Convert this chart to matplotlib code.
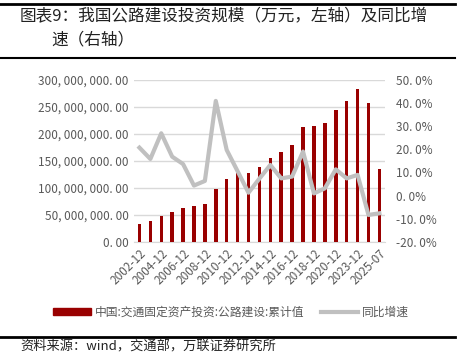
import matplotlib
matplotlib.use("Agg")
import matplotlib.pyplot as plt
from matplotlib.lines import Line2D
from matplotlib.patches import Patch
import numpy as np

plt.rcParams["font.family"] = ["Noto Sans CJK SC", "DejaVu Sans"]

# --- Données ---
periods = ["2002-12", "2003-12", "2004-12", "2005-12", "2006-12", "2007-12",
           "2008-12", "2009-12", "2010-12", "2011-12", "2012-12", "2013-12",
           "2014-12", "2015-12", "2016-12", "2017-12", "2018-12", "2019-12",
           "2020-12", "2021-12", "2023-12", "2024-12", "2025-07"]
invest = [32.8e6, 38.4e6, 48.3e6, 55.7e6, 63.1e6, 66.2e6, 69.9e6, 97.8e6,
          116.3e6, 126.9e6, 128.1e6, 138.0e6, 155.3e6, 165.8e6, 178.8e6,
          212.3e6, 214.1e6, 219.7e6, 243.8e6, 260.5e6, 282.8e6, 258.0e6, 134.3e6]
yoy = [20.7, 15.8, 26.9, 16.8, 13.6, 4.3, 6.3, 40.9, 19.7, 10.5, 1.2, 7.3,
       13.2, 7.4, 8.2, 19.0, 0.9, 3.1, 11.3, 7.4, 8.9, -8.4, -7.7]
left_ticks = [0, 50e6, 100e6, 150e6, 200e6, 250e6, 300e6]
left_labels = ["0. 00", "50, 000, 000. 00", "100, 000, 000. 00", "150, 000, 000. 00",
               "200, 000, 000. 00", "250, 000, 000. 00", "300, 000, 000. 00"]
right_ticks = [-20, -10, 0, 10, 20, 30, 40, 50]
right_labels = ["-20. 0%", "-10. 0%", "0. 0%", "10. 0%", "20. 0%", "30. 0%", "40. 0%", "50. 0%"]

bar_color = "#990000"
line_color = "#C0C0C0"
txt_color = "#595959"

fig = plt.figure(figsize=(4.62, 3.55), dpi=100)
ax = fig.add_axes([0.290, 0.319, 0.543, 0.456])
x = np.arange(len(periods))

ax.bar(x, invest, width=0.32, color=bar_color, zorder=3)
ax.set_ylim(0, 300e6)
ax.set_xlim(-0.5, len(periods) - 0.5)
ax.set_yticks(left_ticks)
ax.set_yticklabels(left_labels, fontsize=8.5, color=txt_color)
ax.grid(axis="y", color="#D9D9D9", linewidth=1, zorder=0)
ax.set_xticks(x[::2])
ax.set_xticklabels(periods[::2], rotation=45, ha="right", rotation_mode="anchor",
                   fontsize=8.5, color=txt_color)
ax.tick_params(length=0, pad=4)
for s in ["top", "right", "left"]:
    ax.spines[s].set_visible(False)
ax.spines["bottom"].set_color("#D9D9D9")

ax2 = ax.twinx()
ax2.plot(x, yoy, color=line_color, linewidth=3, zorder=4)
ax2.set_ylim(-20, 50)
ax2.set_yticks(right_ticks)
ax2.set_yticklabels(right_labels, fontsize=8.5, color=txt_color)
ax2.tick_params(length=0, pad=8)
for s in ax2.spines.values():
    s.set_visible(False)

# Légende
handles = [Patch(color=bar_color), Line2D([0], [0], color=line_color, linewidth=3)]
fig.legend(handles, ["中国:交通固定资产投资:公路建设:累计值", "同比增速"],
           loc="center", bbox_to_anchor=(0.5, 0.121), ncol=2, frameon=False,
           fontsize=8.5, labelcolor=txt_color, handlelength=3.2, handleheight=0.5,
           handletextpad=0.3, columnspacing=1.4)

# Titre et cadre
fig.add_artist(Line2D([0.0, 0.985], [0.989, 0.989], color="black", linewidth=2))
fig.add_artist(Line2D([0.0, 0.985], [0.836, 0.836], color="black", linewidth=1.5))
fig.text(0.043, 0.952, "图表9：我国公路建设投资规模（万元，左轴）及同比增",
         fontsize=12, va="center", ha="left", color="#222222")
fig.text(0.112, 0.887, "速（右轴）", fontsize=12, va="center", ha="left", color="#222222")
fig.add_artist(Line2D([0.0, 0.985], [0.051, 0.051], color="black", linewidth=2))
fig.text(0.043, 0.004, "资料来源：wind，交通部，万联证券研究所", fontsize=9.5,
         style="italic", va="bottom", ha="left", color="#222222")

fig.savefig("out.png", dpi=100)
